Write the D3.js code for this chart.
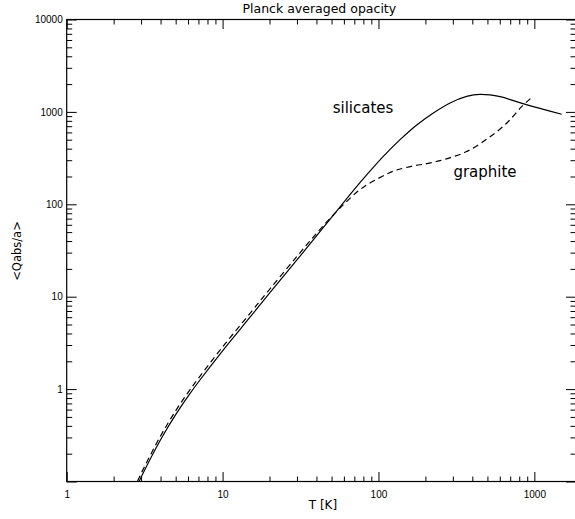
<!DOCTYPE html>
<html>
<head>
<meta charset="utf-8">
<script src="https://cdn.jsdelivr.net/npm/d3@7"></script>
<style>
  body { margin: 0; background: #fff; }
  svg { display: block; font-family: "DejaVu Sans", sans-serif; }
  .tick text { font-size: 10px; fill: #000; }
  .tick line { stroke: #000; stroke-width: 1; }
</style>
</head>
<body>
<svg id="chart" width="575" height="519"></svg>
<script>
// values
var silT = [2.85, 3, 4, 5, 6, 7, 10, 15, 20, 30, 50, 70, 84, 107, 137, 176, 225, 288, 368, 448, 603, 769, 984, 1497];
var silQ = [0.092, 0.111, 0.283, 0.529, 0.835, 1.194, 2.6, 6.0, 10.9, 25, 72, 145, 208, 328, 498, 723, 975, 1250, 1470, 1545, 1462, 1290, 1140, 943];

var graT = [2.85, 3, 4, 5, 6, 7, 10, 15, 20, 30, 40, 51, 61, 72.5, 84, 100, 116, 131, 167, 204, 248, 302, 368, 494, 664, 829, 961];
var graQ = [0.101, 0.122, 0.311, 0.582, 0.918, 1.31, 2.86, 6.6, 12.0, 27.3, 48.3, 76, 103, 135, 162, 191, 217, 235, 260, 275, 297, 328, 372, 506, 754, 1140, 1432];

var xMajor = [1, 10, 100, 1000];
var yMajor = [0.1, 1, 10, 100, 1000, 10000];
var yLabels = [1, 10, 100, 1000, 10000];

var svg = d3.select("#chart");

var mLeft = 66.7, mRight = 576, mTop = 19.5, mBottom = 481.5;

var x = d3.scaleLog()
    .domain([1, 1850])
    .range([mLeft, mRight]);

var y = d3.scaleLog()
    .domain([0.1, 10000])
    .range([mBottom, mTop]);

var isMajor = function(v) {
    var l = Math.log10(v);
    return Math.abs(l - Math.round(l)) < 1e-9;
};
var xMinor = x.ticks().filter(function(d) { return !isMajor(d); });
var yMinor = y.ticks().filter(function(d) { return !isMajor(d); });

// bottom axis
svg.append("g")
    .attr("transform", "translate(0," + mBottom + ")")
    .call(d3.axisBottom(x).tickValues(xMajor).tickSize(-9.5).tickPadding(9)
        .tickFormat(function(d) { return d; }))
    .call(function(g) { g.select(".domain").remove(); });
svg.append("g")
    .attr("transform", "translate(0," + mBottom + ")")
    .call(d3.axisBottom(x).tickValues(xMinor).tickSize(-5).tickFormat(""))
    .call(function(g) { g.select(".domain").remove(); });

// top axis (mirrored ticks)
svg.append("g")
    .attr("transform", "translate(0," + mTop + ")")
    .call(d3.axisTop(x).tickValues(xMajor).tickSize(-9.5).tickFormat(""))
    .call(function(g) { g.select(".domain").remove(); });
svg.append("g")
    .attr("transform", "translate(0," + mTop + ")")
    .call(d3.axisTop(x).tickValues(xMinor).tickSize(-5).tickFormat(""))
    .call(function(g) { g.select(".domain").remove(); });

// left axis
svg.append("g")
    .attr("transform", "translate(" + mLeft + ",0)")
    .call(d3.axisLeft(y).tickValues(yMajor).tickSize(-10).tickPadding(4)
        .tickFormat(function(d) { return yLabels.indexOf(d) >= 0 ? d : ""; }))
    .call(function(g) { g.select(".domain").remove(); });
svg.append("g")
    .attr("transform", "translate(" + mLeft + ",0)")
    .call(d3.axisLeft(y).tickValues(yMinor).tickSize(-5.5).tickFormat(""))
    .call(function(g) { g.select(".domain").remove(); });

// right axis
svg.append("g")
    .attr("transform", "translate(" + mRight + ",0)")
    .call(d3.axisRight(y).tickValues(yMajor).tickSize(-10).tickFormat(""))
    .call(function(g) { g.select(".domain").remove(); });
svg.append("g")
    .attr("transform", "translate(" + mRight + ",0)")
    .call(d3.axisRight(y).tickValues(yMinor).tickSize(-5.5).tickFormat(""))
    .call(function(g) { g.select(".domain").remove(); });

// frame
svg.append("rect")
    .attr("x", mLeft).attr("y", mTop)
    .attr("width", mRight - mLeft).attr("height", mBottom - mTop)
    .attr("fill", "none").attr("stroke", "#000").attr("stroke-width", 1.2);

svg.append("clipPath").attr("id", "plot")
  .append("rect")
    .attr("x", mLeft).attr("y", mTop)
    .attr("width", mRight - mLeft).attr("height", mBottom - mTop);

var line = d3.line()
    .x(function(d) { return x(d[0]); })
    .y(function(d) { return y(d[1]); })
    .curve(d3.curveCatmullRom.alpha(0.5));

svg.append("path")
    .datum(d3.zip(silT, silQ))
    .attr("clip-path", "url(#plot)")
    .attr("d", line)
    .attr("fill", "none")
    .attr("stroke", "#000")
    .attr("stroke-width", 1.2);

svg.append("path")
    .datum(d3.zip(graT, graQ))
    .attr("clip-path", "url(#plot)")
    .attr("d", line)
    .attr("fill", "none")
    .attr("stroke", "#000")
    .attr("stroke-width", 1.2)
    .attr("stroke-dasharray", "6,4");

// labels
svg.append("text")
    .attr("x", 363).attr("y", 113)
    .attr("text-anchor", "middle")
    .attr("font-size", 15)
    .text("silicates");

svg.append("text")
    .attr("x", 485).attr("y", 177)
    .attr("text-anchor", "middle")
    .attr("font-size", 15)
    .text("graphite");

svg.append("text")
    .attr("x", (mLeft + mRight) / 2 - 2).attr("y", 13)
    .attr("text-anchor", "middle")
    .attr("font-size", 12.5)
    .text("Planck averaged opacity");

svg.append("text")
    .attr("x", 323).attr("y", 509)
    .attr("text-anchor", "middle")
    .attr("font-size", 12)
    .text("T [K]");

svg.append("text")
    .attr("transform", "translate(21,251) rotate(-90)")
    .attr("text-anchor", "middle")
    .attr("font-size", 11.5)
    .text("<Qabs/a>");
</script>
</body>
</html>
